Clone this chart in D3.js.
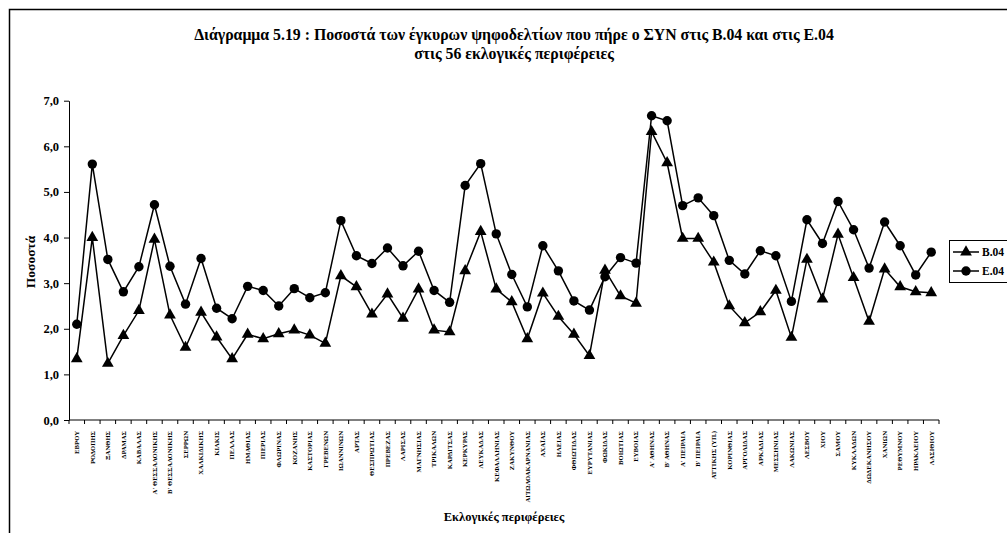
<!DOCTYPE html>
<html>
<head>
<meta charset="utf-8">
<script src="https://cdn.jsdelivr.net/npm/d3@7"></script>
<style>
  html, body { margin: 0; padding: 0; background: #fff; }
  svg { display: block; }
  text { font-family: "Liberation Serif", "Times New Roman", serif; font-weight: bold; fill: #000; }
</style>
</head>
<body>
<svg id="chart" width="1007" height="533"></svg>
<script>
const categories = ["ΕΒΡΟΥ","ΡΟΔΟΠΗΣ","ΞΑΝΘΗΣ","ΔΡΑΜΑΣ","ΚΑΒΑΛΑΣ","Α' ΘΕΣΣΑΛΟΝΙΚΗΣ","Β' ΘΕΣΣΑΛΟΝΙΚΗΣ","ΣΕΡΡΩΝ","ΧΑΛΚΙΔΙΚΗΣ","ΚΙΛΚΙΣ","ΠΕΛΛΑΣ","ΗΜΑΘΙΑΣ","ΠΙΕΡΙΑΣ","ΦΛΩΡΙΝΑΣ","ΚΟΖΑΝΗΣ","ΚΑΣΤΟΡΙΑΣ","ΓΡΕΒΕΝΩΝ","ΙΩΑΝΝΙΝΩΝ","ΑΡΤΑΣ","ΘΕΣΠΡΩΤΙΑΣ","ΠΡΕΒΕΖΑΣ","ΛΑΡΙΣΑΣ","ΜΑΓΝΗΣΙΑΣ","ΤΡΙΚΑΛΩΝ","ΚΑΡΔΙΤΣΑΣ","ΚΕΡΚΥΡΑΣ","ΛΕΥΚΑΔΑΣ","ΚΕΦΑΛΛΗΝΙΑΣ","ΖΑΚΥΝΘΟΥ","ΑΙΤΩΛΟΑΚΑΡΝΑΝΙΑΣ","ΑΧΑΪΑΣ","ΗΛΕΙΑΣ","ΦΘΙΩΤΙΔΑΣ","ΕΥΡΥΤΑΝΙΑΣ","ΦΩΚΙΔΑΣ","ΒΟΙΩΤΙΑΣ","ΕΥΒΟΙΑΣ","Α' ΑΘΗΝΑΣ","Β' ΑΘΗΝΑΣ","Α' ΠΕΙΡΑΙΑ","Β' ΠΕΙΡΑΙΑ","ΑΤΤΙΚΗΣ (ΥΠ.)","ΚΟΡΙΝΘΙΑΣ","ΑΡΓΟΛΙΔΑΣ","ΑΡΚΑΔΙΑΣ","ΜΕΣΣΗΝΙΑΣ","ΛΑΚΩΝΙΑΣ","ΛΕΣΒΟΥ","ΧΙΟΥ","ΣΑΜΟΥ","ΚΥΚΛΑΔΩΝ","ΔΩΔΕΚΑΝΗΣΟΥ","ΧΑΝΙΩΝ","ΡΕΘΥΜΝΟΥ","ΗΡΑΚΛΕΙΟΥ","ΛΑΣΙΘΙΟΥ"];

const valuesB04 = [1.34,4.00,1.24,1.85,2.40,3.96,2.30,1.59,2.36,1.82,1.34,1.88,1.78,1.89,1.97,1.86,1.68,3.16,2.92,2.32,2.76,2.23,2.87,1.97,1.93,3.27,4.13,2.87,2.59,1.78,2.78,2.27,1.88,1.41,3.28,2.72,2.56,6.32,5.64,3.98,3.98,3.46,2.50,2.13,2.37,2.84,1.81,3.52,2.65,4.07,3.12,2.16,3.31,2.92,2.81,2.79];

const valuesE04 = [2.10,5.61,3.52,2.81,3.36,4.72,3.37,2.54,3.54,2.45,2.22,2.93,2.84,2.50,2.88,2.68,2.79,4.37,3.60,3.43,3.77,3.38,3.70,2.84,2.58,5.14,5.62,4.08,3.19,2.48,3.82,3.27,2.61,2.41,3.14,3.56,3.44,6.67,6.56,4.70,4.87,4.48,3.50,3.20,3.71,3.60,2.60,4.39,3.87,4.79,4.17,3.33,4.34,3.82,3.18,3.68];

const seriesNames = ["Β.04", "Ε.04"];
const yTicks = [0,1,2,3,4,5,6,7];
const titleLines = ["Διάγραμμα 5.19 : Ποσοστά των έγκυρων ψηφοδελτίων που πήρε ο ΣΥΝ στις Β.04 και στις Ε.04", "στις 56 εκλογικές περιφέρειες"];
const yTitle = "Ποσοστά";
const xTitle = "Εκλογικές περιφέρειες";

const svg = d3.select("#chart");
const W = 1007, H = 533;
const plot = {left: 69, right: 939, top: 100.7, bottom: 420};

// outer frame
svg.append("rect").attr("x", 9.5).attr("y", 9.5).attr("width", W + 20).attr("height", H + 20)
  .attr("fill", "#fff").attr("stroke", "#000").attr("stroke-width", 1.5);

const x = d3.scaleBand().domain(categories).range([plot.left, plot.right]).padding(0);
const y = d3.scaleLinear().domain([0, 7]).range([plot.bottom, plot.top]);

// title
svg.append("text").attr("x", 514).attr("y", 40).attr("text-anchor", "middle")
  .style("font-size", "15.8px").text(titleLines[0]);
svg.append("text").attr("x", 514).attr("y", 59).attr("text-anchor", "middle")
  .style("font-size", "15.8px").text(titleLines[1]);

// y axis
const yAxis = d3.axisLeft(y).tickValues(yTicks).tickSize(5).tickSizeOuter(0)
  .tickFormat(d => d3.format(".1f")(d).replace(".", ","));
const gy = svg.append("g").attr("transform", `translate(${plot.left},0)`).call(yAxis);
gy.select(".domain").attr("stroke", "#000");
gy.selectAll(".tick line").attr("stroke", "#000");
gy.selectAll(".tick text").attr("x", -10).style("font-size", "12.5px")
  .style("font-family", "Liberation Serif, serif").style("font-weight", "bold");

// x axis
const gx = svg.append("g").attr("transform", `translate(0,${plot.bottom})`);
gx.append("line").attr("x1", plot.left).attr("x2", plot.right).attr("y1", 0).attr("y2", 0).attr("stroke", "#000");
const boundaries = categories.map(c => x(c)).concat([x(categories[categories.length-1]) + x.bandwidth()]);
gx.selectAll("line.tk").data(boundaries).enter().append("line").attr("class", "tk")
  .attr("x1", d => d).attr("x2", d => d).attr("y1", 0).attr("y2", 4).attr("stroke", "#000");
gx.selectAll("text.cat").data(categories).enter().append("text").attr("class", "cat")
  .attr("transform", d => `translate(${x(d) + x.bandwidth()/2 + 2.3},${11}) rotate(-90)`)
  .attr("text-anchor", "end")
  .style("font-size", "6.7px")
  .text(d => d);

// axis titles
svg.append("text").attr("transform", `translate(35,262) rotate(-90)`).attr("text-anchor", "middle")
  .style("font-size", "13.5px").text(yTitle);
svg.append("text").attr("x", 504).attr("y", 521).attr("text-anchor", "middle")
  .style("font-size", "12.5px").text(xTitle);

// lines
const line = d3.line().x((d, i) => x(categories[i]) + x.bandwidth()/2).y(d => y(d));
const tri = d3.symbol().type(d3.symbolTriangle).size(60);

svg.append("path").datum(valuesB04).attr("d", line).attr("fill", "none").attr("stroke", "#000").attr("stroke-width", 1.5);
svg.append("path").datum(valuesE04).attr("d", line).attr("fill", "none").attr("stroke", "#000").attr("stroke-width", 1.5);

svg.selectAll("path.tri").data(valuesB04).enter().append("path").attr("class", "tri")
  .attr("d", tri).attr("fill", "#000")
  .attr("transform", (d, i) => `translate(${x(categories[i]) + x.bandwidth()/2},${y(d)})`);
svg.selectAll("circle.dot").data(valuesE04).enter().append("circle").attr("class", "dot")
  .attr("cx", (d, i) => x(categories[i]) + x.bandwidth()/2).attr("cy", d => y(d)).attr("r", 4.7).attr("fill", "#000");

// legend
const lg = svg.append("g").attr("transform", "translate(949,240)");
lg.append("rect").attr("x", 0.5).attr("y", 0.5).attr("width", 80).attr("height", 42)
  .attr("fill", "#fff").attr("stroke", "#000").attr("stroke-width", 1);
seriesNames.forEach((name, i) => {
  const yy = 12 + i * 19;
  lg.append("line").attr("x1", 4).attr("x2", 30).attr("y1", yy).attr("y2", yy).attr("stroke", "#000").attr("stroke-width", 1.5);
  if (i === 0) {
    lg.append("path").attr("d", tri).attr("transform", `translate(17,${yy})`).attr("fill", "#000");
  } else {
    lg.append("circle").attr("cx", 17).attr("cy", yy).attr("r", 4.7).attr("fill", "#000");
  }
  lg.append("text").attr("x", 33).attr("y", yy + 4).style("font-size", "11.5px").text(name);
});
</script>
</body>
</html>
